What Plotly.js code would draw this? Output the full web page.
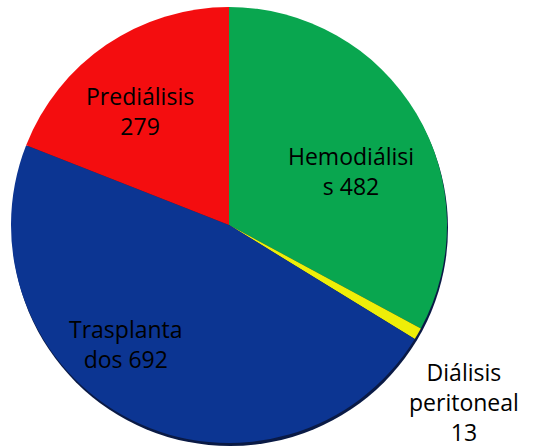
<!DOCTYPE html>
<html>
<head>
<meta charset="utf-8">
<script src="https://cdn.plot.ly/plotly-3.0.1.min.js"></script>
<style>html,body{margin:0;padding:0;background:#fff;}#chart{width:534px;height:448px;}</style>
</head>
<body>
<div id="chart"></div>
<script>
// Data
const labels = ['Hemodiálisis', 'Diálisis peritoneal', 'Trasplantados', 'Prediálisis'];
const values = [482, 13, 692, 279];
// Label text as written in the chart (with its line breaks)
const labelLines = ['Hemodiálisi<br>s ', 'Diálisis<br>peritoneal<br>', 'Trasplanta<br>dos ', 'Prediálisis<br>'];
const colors = ['#09A64F', '#EEEE08', '#0C3592', '#F40D0F'];

// Label placement (paper pixels, centre of text block)
const labelPos = [[351, 171], [464, 402], [126, 344], [140, 111]];

const W = 534, H = 448;
const cx = 229, cy = 225, r = 218;
const dom = {x: [(cx - r) / W, (cx + r) / W], y: [1 - (cy + r) / H, 1 - (cy - r) / H]};
const sh = 3;

const shadow = {
  type: 'pie', values: [1], labels: ['s'], sort: false,
  marker: {colors: ['#0A1A45'], line: {width: 0}},
  textinfo: 'none', hoverinfo: 'skip', showlegend: false,
  domain: {x: [(cx - r + 1) / W, (cx + r + 1) / W], y: [1 - (cy + r + sh) / H, 1 - (cy - r + sh) / H]}
};

const pie = {
  type: 'pie', labels: labels, values: values, sort: false,
  direction: 'clockwise', rotation: 0,
  marker: {colors: colors, line: {width: 0}},
  textinfo: 'none', showlegend: false,
  domain: dom
};

const annotations = labels.map((l, i) => ({
  text: labelLines[i] + values[i],
  x: labelPos[i][0] / W, y: 1 - labelPos[i][1] / H,
  xref: 'paper', yref: 'paper', xanchor: 'center', yanchor: 'middle',
  showarrow: false, align: 'center',
  font: {family: 'Open Sans, sans-serif', size: 23, color: '#000'}
}));

const layout = {
  width: W, height: H,
  margin: {l: 0, r: 0, t: 0, b: 0},
  paper_bgcolor: '#fff', plot_bgcolor: '#fff',
  showlegend: false,
  annotations: annotations
};

Plotly.newPlot('chart', [shadow, pie], layout, {displayModeBar: false, staticPlot: true});
</script>
</body>
</html>
